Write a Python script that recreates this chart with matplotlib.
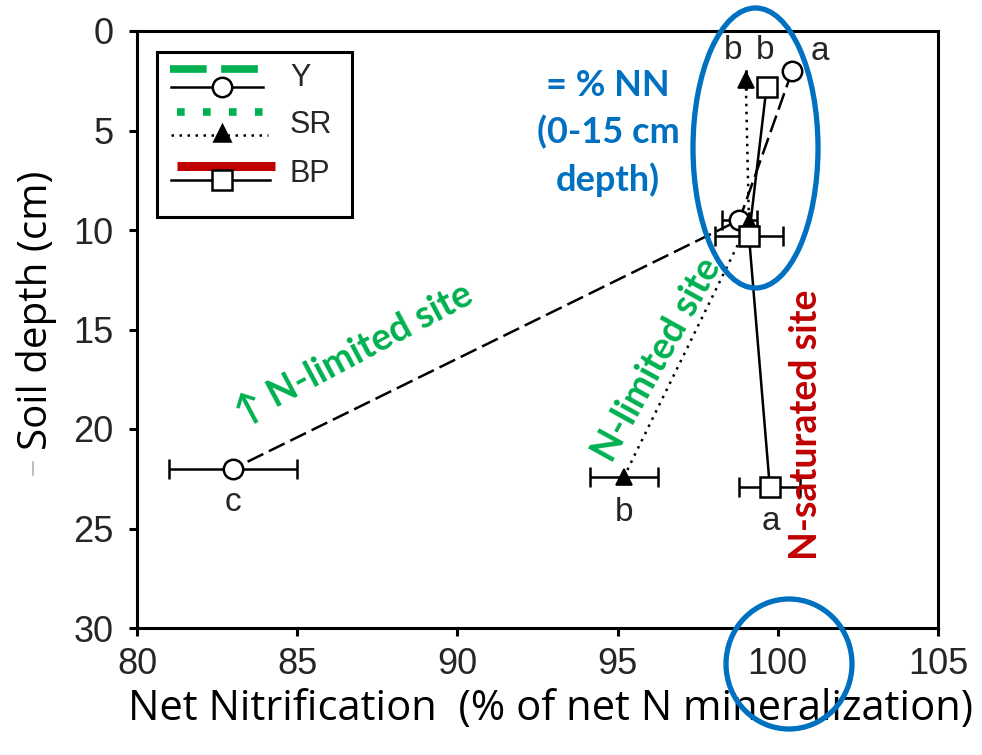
import matplotlib
matplotlib.use("Agg")
import matplotlib.pyplot as plt
from matplotlib import font_manager
from matplotlib.patches import Ellipse, Rectangle
from matplotlib.lines import Line2D

# ---- data -------------------------------------------------------------
# Net nitrification (% of net N mineralization) by soil depth (cm)
depth_y = [2.0, 9.5, 22.0]
nn_y = [100.45, 98.8, 83.0]
err_y = [0.0, 0.55, 2.0]

depth_sr = [2.45, 9.6, 22.4]
nn_sr = [99.0, 99.1, 95.2]
err_sr = [0.0, 0.0, 1.05]

depth_bp = [2.8, 10.3, 22.9]
nn_bp = [99.65, 99.1, 99.75]
err_bp = [0.0, 1.07, 0.95]

letters_y = ["a", "", "c"]
letters_sr = ["b", "", "b"]
letters_bp = ["b", "", "a"]

series_names = ["Y", "SR", "BP"]
x_ticks = [80, 85, 90, 95, 100, 105]
y_ticks = [0, 5, 10, 15, 20, 25, 30]

# ---- styling ----------------------------------------------------------
W, H = 982, 755
fig = plt.figure(figsize=(W / 100, H / 100), dpi=100)
L, R, T, B = 137, 938, 31, 628
ax = fig.add_axes([L / W, 1 - B / H, (R - L) / W, (B - T) / H])

installed = {f.name for f in font_manager.fontManager.ttflist}
if "Liberation Sans Narrow" in installed:
    tick_font, tick_size = ["Liberation Sans Narrow", "DejaVu Sans"], 28
else:
    tick_font, tick_size = ["Liberation Sans", "DejaVu Sans"], 26
label_font = ["Open Sans", "DejaVu Sans"]
bold_font = ["Lato", "DejaVu Sans"]
GREEN = "#00B050"
RED = "#C00000"
BLUE = "#0070C0"
TXT = "#262626"

lw = 1.8
ax.plot(nn_y, depth_y, color="black", lw=lw, ls=(0, (7, 2.5)), zorder=2)
ax.plot(nn_sr, depth_sr, color="black", lw=lw, ls=(0, (1, 2.2)), zorder=2)
ax.plot(nn_bp, depth_bp, color="black", lw=lw, ls="-", zorder=2)

eb_kw = dict(fmt="none", ecolor="black", elinewidth=1.8, capsize=7.5, capthick=1.8, zorder=3)
ax.errorbar(nn_y, depth_y, xerr=err_y, **eb_kw)
ax.errorbar(nn_sr, depth_sr, xerr=err_sr, **eb_kw)
ax.errorbar(nn_bp, depth_bp, xerr=err_bp, **eb_kw)

ax.plot(nn_y, depth_y, ls="none", marker="o", ms=14, mfc="white", mec="black", mew=1.8, zorder=4)
ax.plot(nn_sr, depth_sr, ls="none", marker="^", ms=12, mfc="black", mec="black", mew=1.2, zorder=5)
ax.plot(nn_bp, depth_bp, ls="none", marker="s", ms=14, mfc="white", mec="black", mew=1.8, zorder=6)

# significance letters, offset from each point (points)
letter_kw = dict(textcoords="offset points", ha="center", va="center",
                 fontsize=tick_size - 2, color=TXT, family=tick_font)
offsets_y = [(20, 14), None, (0, -24)]
offsets_sr = [(-9, 21), None, (0, -26)]
offsets_bp = [(-1, 26), None, (1, -25)]
for nn, dp, labs, offs in [(nn_y, depth_y, letters_y, offsets_y),
                           (nn_sr, depth_sr, letters_sr, offsets_sr),
                           (nn_bp, depth_bp, letters_bp, offsets_bp)]:
    for x, y, s, o in zip(nn, dp, labs, offs):
        if s:
            ax.annotate(s, (x, y), xytext=o, **letter_kw)

# axes
ax.set_xlim(80, 105)
ax.set_ylim(30, 0)
ax.set_xticks(x_ticks)
ax.set_yticks(y_ticks)
ax.set_xticklabels([str(v) for v in x_ticks], family=tick_font, fontsize=tick_size, color=TXT)
ax.set_yticklabels([str(v) for v in y_ticks], family=tick_font, fontsize=tick_size, color=TXT)
for sp in ax.spines.values():
    sp.set_linewidth(2.2)
ax.tick_params(direction="out", length=6, width=2.2, pad=8)
ax.tick_params(axis="y", pad=11)
ax.set_xlabel("Net Nitrification  (% of net N mineralization)", family=label_font,
              fontsize=30, color="black")
ax.xaxis.set_label_coords((551 - L) / (R - L), 1 - (688 - T) / (B - T))
ax.set_ylabel("Soil depth (cm)", family=label_font, fontsize=29, color="black")
ax.yaxis.set_label_coords((57 - L) / (R - L), 1 - (310 - T) / (B - T))


def px(x, y):
    """pixel position -> axes fraction"""
    return (x - L) / (R - L), 1 - (y - T) / (B - T)


# legend box
x0, y0 = px(157, 217)
x1, y1 = px(352, 52)
ax.add_patch(Rectangle((x0, y0), x1 - x0, y1 - y0, transform=ax.transAxes,
                       fill=False, ec="black", lw=2.2, zorder=7))


def hline(xa, xb, y, **kw):
    a, b = px(xa, y), px(xb, y)
    ax.add_line(Line2D([a[0], b[0]], [a[1], b[1]], transform=ax.transAxes, zorder=8, **kw))


hline(170, 272, 69, color=GREEN, lw=5.5, ls=(0, (4.8, 1.9)), solid_capstyle="butt", dash_capstyle="butt")
hline(171, 263, 87, color="black", lw=1.8, ls="-")
hline(177, 276, 112, color=GREEN, lw=5.5, ls=(0, (1, 2.4)), dash_capstyle="butt")
hline(171, 268, 135, color="black", lw=1.8, ls=(0, (1, 2.2)))
hline(177, 275, 166, color=RED, lw=6.5, ls="-", solid_capstyle="butt")
hline(171, 270, 180, color="black", lw=1.8, ls="-")

for (mx, my), mk, fc, ms in [((222, 87), "o", "white", 14),
                             ((222, 133), "^", "black", 12),
                             ((222, 180), "s", "white", 14)]:
    p = px(mx, my)
    ax.plot([p[0]], [p[1]], transform=ax.transAxes, marker=mk, ms=ms, mfc=fc,
            mec="black", mew=1.8, ls="none", zorder=9, clip_on=False)

for (tx, ty), s in zip([(290, 78), (290, 125), (290, 174)], series_names):
    p = px(tx, ty)
    ax.text(p[0], p[1], s, transform=ax.transAxes, ha="left", va="center",
            fontsize=tick_size - 4, color=TXT, family=tick_font, zorder=9)

# annotations
p = px(608, 133)
ax.text(p[0], p[1], "= % NN\n(0-15 cm\ndepth)", transform=ax.transAxes, ha="center",
        va="center", fontsize=26, fontweight="bold", color=BLUE, family=bold_font,
        linespacing=1.45)

p = px(354, 355)
ax.text(p[0], p[1], "\u2191 N-limited site", transform=ax.transAxes, ha="center",
        va="center", rotation=28, rotation_mode="anchor", fontsize=27,
        fontweight="bold", color=GREEN, family=bold_font)

p = px(657, 360)
ax.text(p[0], p[1], "N-limited site", transform=ax.transAxes, ha="center",
        va="center", rotation=61, rotation_mode="anchor", fontsize=27,
        fontweight="bold", color=GREEN, family=bold_font)

p = px(806, 425)
ax.text(p[0], p[1], "N-saturated site", transform=ax.transAxes, ha="center",
        va="center", rotation=90, rotation_mode="anchor", fontsize=27,
        fontweight="bold", color=RED, family=bold_font)

# highlight ellipses (axes fraction)
for (cx, cy, ew, eh) in [(755.5, 148, 125, 280), (789, 664, 126, 130)]:
    c = px(cx, cy)
    ax.add_patch(Ellipse(c, ew / (R - L), eh / (B - T), transform=ax.transAxes,
                         fill=False, ec=BLUE, lw=3.8, zorder=10, clip_on=False))

fig.add_artist(Line2D([33 / W, 33 / W], [1 - 475 / H, 1 - 462 / H], color="#b0b0b0", lw=1.2))

fig.savefig("out.png", dpi=100)
